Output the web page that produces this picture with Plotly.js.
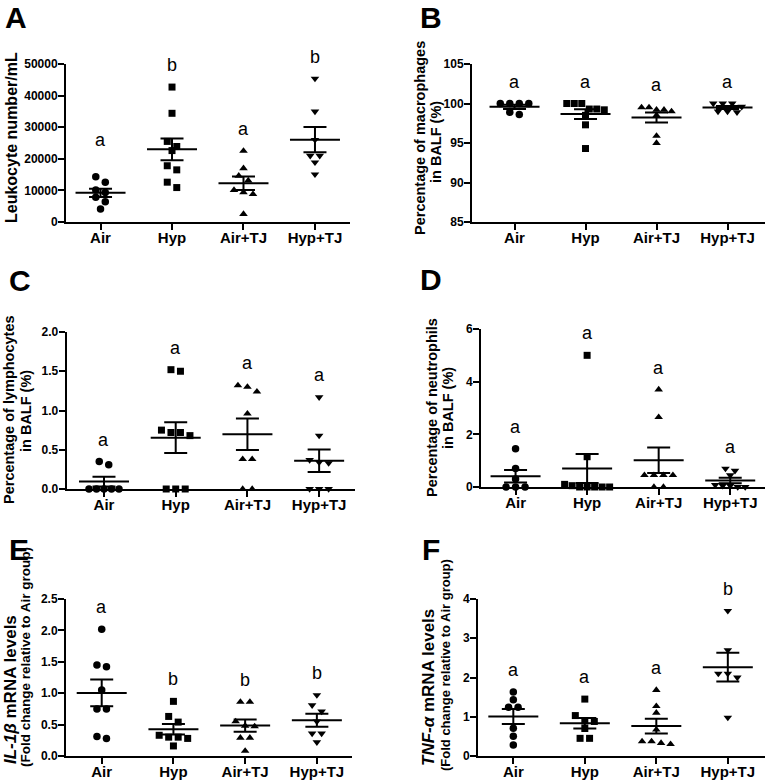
<!DOCTYPE html>
<html><head><meta charset="utf-8">
<script src="https://cdn.plot.ly/plotly-3.0.1.min.js"></script>
<style>html,body{margin:0;padding:0;background:#fff}#chart{width:766px;height:780px}</style>
</head><body><div id="chart"></div>
<script>
// ---------- data ----------
const groups = ["Air", "Hyp", "Air+TJ", "Hyp+TJ"];

// A: Leukocyte number/mL
const leukocyteAir   = [14300, 12600, 10100, 9300, 7800, 6400, 4100];
const leukocyteHyp   = [42700, 34400, 25500, 23900, 22600, 17800, 16500, 12600, 10900];
const leukocyteAirTJ = [22500, 17000, 14600, 13100, 10100, 9400, 8800, 2500];
const leukocyteHypTJ = [45400, 35000, 26000, 21000, 21000, 18900, 15100];
const lettersA = ["a", "b", "a", "b"];

// B: Percentage of macrophages in BALF (%)
const macroAir   = [100, 100, 100, 100, 98.9, 98.6];
const macroHyp   = [100, 100, 100, 99.3, 99.3, 99.2, 98.5, 97.3, 94.3];
const macroAirTJ = [99.5, 99.5, 99.2, 99.2, 99.0, 98.5, 95.9, 95.0];
const macroHypTJ = [100, 100, 100, 99.6, 99.0, 98.9, 99.0];
const lettersB = ["a", "a", "a", "a"];

// C: Percentage of lymphocytes in BALF (%)
const lymphoAir   = [0.35, 0.31, 0, 0, 0, 0, 0];
const lymphoHyp   = [1.52, 1.50, 0.75, 0.72, 0.72, 0.68, 0, 0, 0];
const lymphoAirTJ = [1.32, 1.30, 1.24, 0.96, 0.38, 0.38, 0, 0];
const lymphoHypTJ = [1.17, 0.68, 0.37, 0.34, 0.33, 0, 0, 0];
const lettersC = ["a", "a", "a", "a"];

// D: Percentage of neutrophils in BALF (%)
const neutroAir   = [1.45, 0.70, 0.30, 0, 0, 0];
const neutroHyp   = [5.0, 1.15, 0.1, 0.05, 0, 0, 0, 0, 0];
const neutroAirTJ = [3.70, 2.65, 0.45, 0.45, 0.45, 0.45, 0, 0];
const neutroHypTJ = [0.70, 0.62, 0.45, 0.08, 0.05, 0.05, 0, 0];
const lettersD = ["a", "a", "a", "a"];

// E: IL-1β mRNA levels (fold change relative to Air group)
const il1bAir   = [2.02, 1.45, 1.42, 1.05, 0.75, 0.75, 0.31, 0.28];
const il1bHyp   = [0.87, 0.63, 0.54, 0.33, 0.30, 0.30, 0.28, 0.16];
const il1bAirTJ = [0.86, 0.86, 0.55, 0.48, 0.47, 0.29, 0.29, 0.08];
const il1bHypTJ = [0.97, 0.81, 0.71, 0.55, 0.36, 0.36, 0.22];
const lettersE = ["a", "b", "b", "b"];

// F: TNF-α mRNA levels (fold change relative to Air group)
const tnfaAir   = [1.63, 1.43, 1.24, 1.24, 0.71, 0.50, 0.28];
const tnfaHyp   = [1.45, 1.03, 0.89, 0.88, 0.70, 0.45, 0.45];
const tnfaAirTJ = [1.68, 1.27, 1.10, 0.67, 0.37, 0.37, 0.33, 0.30];
const tnfaHypTJ = [3.70, 2.70, 2.10, 2.10, 2.00, 0.98];
const lettersF = ["a", "a", "a", "b"];

// ---------- layout config ----------
const W = 766, H = 780;
const FONT = "Liberation Sans, Arial, Helvetica, sans-serif";
const symbols = ["circle", "square", "triangle-up", "triangle-down"];
const msizes = [7.5, 7, 7.5, 7.5];

const panels = [
  {label: "A", data: [leukocyteAir, leukocyteHyp, leukocyteAirTJ, leukocyteHypTJ], letters: lettersA,
   xpx: [66, 350], ypx: [64, 222], xr: [-0.483, 3.49], yr: [0, 50000], dtick: 10000, fmt: "d",
   tag: [3, 17], titles: [{t: "Leukocyte number/mL", x: 11, y: 138, s: 16}], extraLift: [15, 0, 0, 0]},
  {label: "B", data: [macroAir, macroHyp, macroAirTJ, macroHypTJ], letters: lettersB,
   xpx: [472, 765], ypx: [64, 222], xr: [-0.599, 3.528], yr: [85, 105], dtick: 5, fmt: "d",
   tag: [418, 17], titles: [{t: "Percentage of macrophages", x: 420, y: 138, s: 14.5}, {t: "in BALF (%)", x: 436, y: 142, s: 14.5}]},
  {label: "C", data: [lymphoAir, lymphoHyp, lymphoAirTJ, lymphoHypTJ], letters: lettersC,
   xpx: [66.7, 355], ypx: [332, 489], xr: [-0.52, 3.50], yr: [0, 2], dtick: 0.5, fmt: ".1f",
   tag: [7, 280], titles: [{t: "Percentage of lymphocytes", x: 9, y: 410, s: 14.5}, {t: "in BALF (%)", x: 26, y: 411, s: 14.5}]},
  {label: "D", data: [neutroAir, neutroHyp, neutroAirTJ, neutroHypTJ], letters: lettersD,
   xpx: [481, 765], ypx: [329, 487], xr: [-0.483, 3.486], yr: [0, 6], dtick: 2, fmt: "d",
   tag: [418, 279], titles: [{t: "Percentage of neutrophils", x: 432, y: 408, s: 14.5}, {t: "in BALF (%)", x: 448, y: 408, s: 14.5}]},
  {label: "E", data: [il1bAir, il1bHyp, il1bAirTJ, il1bHypTJ], letters: lettersE,
   xpx: [66, 352], ypx: [599, 756], xr: [-0.498, 3.49], yr: [0, 2.5], dtick: 0.5, fmt: ".1f",
   tag: [7, 549], titles: [{t: "<i>IL-1β</i> mRNA levels", x: 10, y: 690, s: 17}, {t: "(Fold change relative to Air group)", x: 25, y: 657, s: 13.5}]},
  {label: "F", data: [tnfaAir, tnfaHyp, tnfaAirTJ, tnfaHypTJ], letters: lettersF,
   xpx: [478, 765], ypx: [599, 756], xr: [-0.494, 3.52], yr: [0, 4], dtick: 1, fmt: "d",
   tag: [420, 549], titles: [{t: "<i>TNF-α</i> mRNA levels", x: 428, y: 688, s: 17}, {t: "(Fold change relative to Air group)", x: 445, y: 665, s: 13}]}
];

function mean(a) { return a.reduce((s, v) => s + v, 0) / a.length; }
function sem(a) {
  const m = mean(a);
  const v = a.reduce((s, x) => s + (x - m) * (x - m), 0) / (a.length - 1);
  return Math.sqrt(v) / Math.sqrt(a.length);
}
// Prism-like horizontal spreading of points with similar values (pixel based)
function spread(vals, pxY, pxX) {
  const idx = vals.map((v, i) => i).sort((a, b) => vals[b] - vals[a]);
  const off = new Array(vals.length).fill(0);
  const clusters = [];
  let cur = null;
  idx.forEach(i => {
    if (cur && (vals[cur[0]] - vals[i]) * pxY < 6.5) cur.push(i);
    else { cur = [i]; clusters.push(cur); }
  });
  clusters.forEach(c => {
    const n = c.length, step = (n >= 5 ? 7.5 : 9.5);
    c.forEach((i, k) => { off[i] = (k - (n - 1) / 2) * step / pxX; });
  });
  return off;
}

const traces = [];
const layout = {
  width: W, height: H, margin: {l: 0, r: 0, t: 0, b: 0},
  paper_bgcolor: "#fff", plot_bgcolor: "rgba(0,0,0,0)", showlegend: false,
  font: {family: FONT, color: "#000"},
  annotations: []
};

panels.forEach((p, pi) => {
  const sfx = pi === 0 ? "" : String(pi + 1);
  const xa = "x" + sfx, ya = "y" + sfx;
  const pxX = (p.xpx[1] - p.xpx[0]) / (p.xr[1] - p.xr[0]);
  const pxY = (p.ypx[1] - p.ypx[0]) / (p.yr[1] - p.yr[0]);

  const commonAxis = {
    showline: true, linewidth: 2, linecolor: "#000", ticks: "outside", ticklen: 6, tickwidth: 2,
    tickcolor: "#000", showgrid: false, zeroline: false, fixedrange: true
  };
  layout["xaxis" + sfx] = Object.assign({}, commonAxis, {
    domain: [p.xpx[0] / W, p.xpx[1] / W], range: p.xr, anchor: ya,
    tickmode: "array", tickvals: groups.map((g, i) => i), ticktext: groups,
    ticklabelstandoff: -5,
    tickfont: {family: FONT, size: 15, weight: "bold", color: "#000"}
  });
  layout["yaxis" + sfx] = Object.assign({}, commonAxis, {
    domain: [1 - p.ypx[1] / H, 1 - p.ypx[0] / H], range: p.yr, anchor: xa,
    tick0: p.yr[0], dtick: p.dtick, tickformat: p.fmt,
    ticklabelstandoff: -2,
    tickfont: {family: FONT, size: 12, weight: "bold", color: "#000"}
  });

  // points
  p.data.forEach((vals, gi) => {
    const off = spread(vals, pxY, pxX);
    traces.push({
      type: "scatter", mode: "markers", xaxis: xa, yaxis: ya, cliponaxis: false,
      x: vals.map((v, i) => gi + off[i]), y: vals,
      marker: {symbol: symbols[gi], size: msizes[gi], color: "#000", line: {width: 0}},
      hoverinfo: "y"
    });
  });

  // mean lines
  const hw = 25 / pxX;
  const mx = [], my = [];
  p.data.forEach((vals, gi) => {
    const m = mean(vals);
    mx.push(gi - hw, gi + hw, null); my.push(m, m, null);
  });
  traces.push({type: "scatter", mode: "lines", xaxis: xa, yaxis: ya, cliponaxis: false,
    x: mx, y: my, line: {color: "#000", width: 2}, hoverinfo: "skip"});

  // SEM error bars
  traces.push({type: "scatter", mode: "markers", xaxis: xa, yaxis: ya, cliponaxis: false,
    x: groups.map((g, i) => i), y: p.data.map(mean),
    marker: {size: 1, color: "rgba(0,0,0,0)"},
    error_y: {type: "data", array: p.data.map(sem), visible: true, color: "#000", thickness: 2, width: 11.5},
    hoverinfo: "skip"});

  // significance letters
  p.data.forEach((vals, gi) => {
    layout.annotations.push({
      xref: xa, yref: ya, x: gi, y: Math.max(...vals), yshift: 22 + (p.extraLift ? p.extraLift[gi] : 0),
      text: p.letters[gi], showarrow: false, xanchor: "center", yanchor: "middle",
      font: {family: FONT, size: 18, color: "#000"}
    });
  });

  // panel tag
  layout.annotations.push({
    xref: "paper", yref: "paper", x: p.tag[0] / W, y: 1 - p.tag[1] / H, xanchor: "left", yanchor: "middle",
    text: "<b>" + p.label + "</b>", showarrow: false, font: {family: FONT, size: 30, color: "#000"}
  });

  // y-axis titles
  p.titles.forEach(t => {
    layout.annotations.push({
      xref: "paper", yref: "paper", x: t.x / W, y: 1 - t.y / H, xanchor: "center", yanchor: "middle",
      textangle: -90, text: "<b>" + t.t + "</b>", showarrow: false,
      font: {family: FONT, size: t.s, color: "#000"}
    });
  });
});

Plotly.newPlot("chart", traces, layout, {staticPlot: true});
</script>
</body></html>
